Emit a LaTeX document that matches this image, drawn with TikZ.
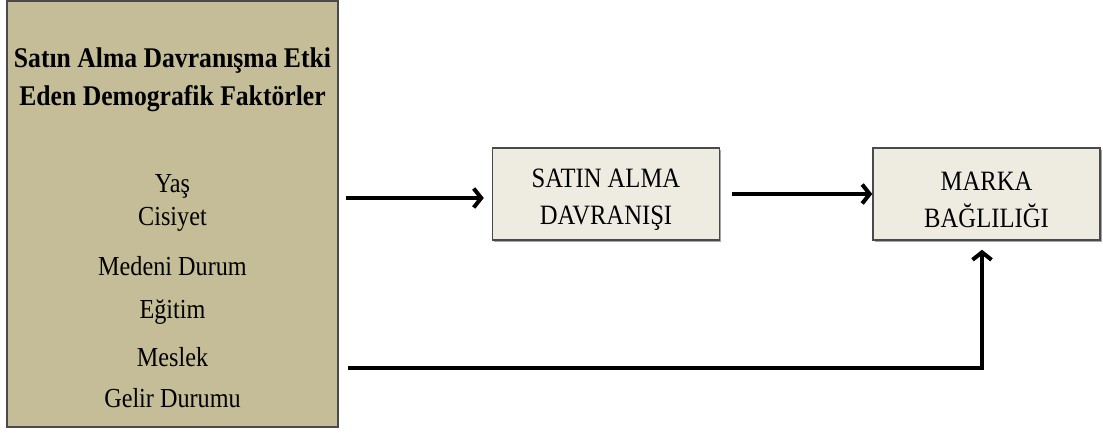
\documentclass[tikz,border=0pt]{standalone}
\usepackage{fontspec}
\setmainfont{Liberation Serif}
\newfontfamily\tallserif[FakeStretch=0.88]{Liberation Serif}
\newfontfamily\tallserifwide[FakeStretch=0.9]{Liberation Serif}
\usetikzlibrary{arrows.meta,shadows}
\definecolor{tanfill}{HTML}{C4BD97}
\definecolor{boxfill}{HTML}{EEECE1}
\definecolor{edge}{HTML}{4A4A4A}
\begin{document}
\begin{tikzpicture}[x=1pt,y=-1pt,
  panel/.style={draw=edge, line width=1.5pt, fill=tanfill,
    minimum width=331pt, minimum height=426pt, inner sep=0pt},
  stagebox/.style={draw=edge, line width=1.5pt, fill=boxfill,
    minimum width=227pt, minimum height=92pt,
    drop shadow={shadow xshift=1.5pt, shadow yshift=-1.5pt, fill=black!35, opacity=1}},
  stagetext/.style={align=center, inner sep=0pt,
    font=\tallserif\fontsize{28}{37}\selectfont},
  heading/.style={anchor=base, font=\tallserifwide\bfseries\fontsize{28.5}{32}\selectfont},
  factor/.style={anchor=base, font=\tallserif\fontsize{27.5}{30}\selectfont},
  flow/.style={line width=4pt, -{Straight Barb[length=7.5pt,width=19pt]}}
]
\useasboundingbox (0,0) rectangle (1103,432);
\fill[white] (0,0) rectangle (1103,432);

% demographic factors panel
\node[panel] (factors) at (172.5,214) {};
\node[heading] (title1) at (172.5,67) {Satın Alma Davranışma Etki};
\node[heading] (title2) at (172.5,105) {Eden Demografik Faktörler};
\node[factor] (age) at (172.5,192) {Yaş};
\node[factor] (gender) at (172.5,225) {Cisiyet};
\node[factor] (marital) at (172.5,275) {Medeni Durum};
\node[factor] (education) at (172.5,318) {Eğitim};
\node[factor] (job) at (172.5,366) {Meslek};
\node[factor] (income) at (172.5,407) {Gelir Durumu};

% process boxes
\node[stagebox] (buy) at (606,194) {};
\node[stagetext] (buytext) at ([yshift=-6pt]buy.center) {SATIN ALMA\\DAVRANIŞI};
\node[stagebox] (brand) at (986.5,194) {};
\node[stagetext] (brandtext) at ([yshift=-6pt]brand.center) {MARKA\\BAĞLILIĞI};

% connectors
\coordinate (lowstart) at (348,368);
\draw[flow, shorten <=7pt, shorten >=8pt]
  ([yshift=-4pt]factors.east |- buy.west) -- ([yshift=-4pt]buy.west);
\draw[flow, shorten <=12pt] (buy.east) -- (brand.west);
\draw[flow, shorten >=9pt] (lowstart) -| ([xshift=-4.5pt]brand.south);
\end{tikzpicture}
\end{document}
